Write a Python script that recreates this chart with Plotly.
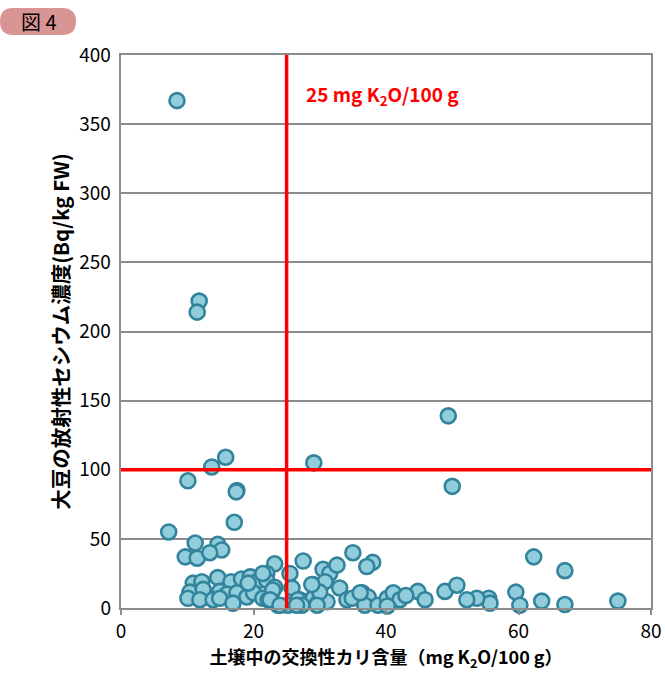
import plotly.graph_objects as go

# Exchangeable K2O in soil (mg K2O/100 g)
soil_k = [8.45, 11.8, 11.5, 15.8, 13.7, 10.1, 17.5, 17.4, 17.1, 29.1, 49.4, 50.0,
          7.2, 11.2, 14.6, 15.2, 9.7, 11.5, 13.4, 27.5, 35.0, 38.0, 37.1,
          62.3, 67.0, 59.6, 63.5, 67.0, 75.0, 55.5, 55.7, 53.7, 52.2, 48.9, 50.7, 60.2,
          30.5, 31.5, 32.6, 29.0, 30.8, 33.0, 27.0, 29.0, 29.7, 31.1, 34.1, 34.9,
          36.4, 37.3, 36.8, 38.8, 40.2, 41.1, 42.1, 40.2, 44.8, 45.9,
          23.2, 25.5, 22.0, 10.9, 12.2, 10.4, 12.4, 10.1, 11.9, 14.6, 16.6, 18.2,
          19.5, 20.5, 22.0, 23.2, 22.8, 25.8, 14.9, 16.0, 17.5, 13.9, 14.9, 16.9,
          19.0, 20.0, 21.4, 22.2, 23.7, 25.2, 26.7, 27.3, 30.0, 19.2, 21.4, 22.9,
          22.5, 24.0, 26.5, 28.8, 29.6, 36.1, 43.0]
# Radiocesium in soybean (Bq/kg FW)
cesium = [367, 222, 214, 109, 102, 92, 85, 84, 62, 105, 139, 88,
          55, 47, 46, 42, 37, 36, 40, 34, 40, 33, 30,
          37, 27, 11.5, 5, 2.5, 5, 7, 3.5, 7, 6, 12, 16.5, 2,
          28, 25, 31, 17, 19, 14.5, 6, 7, 3.5, 4.5, 6, 7,
          11, 8, 2, 2, 7, 11, 6, 1.5, 12, 6,
          32, 25, 25, 18, 19, 11.5, 13.5, 7, 6, 22, 19, 21,
          22.5, 19, 20, 15, 11.5, 14.5, 12, 10, 11, 6, 7, 3.5,
          8, 11, 7, 6, 2, 2, 6, 2, 11.5, 18, 25, 13,
          6, 2, 2, 17, 2, 11, 9]

k_threshold = [25, 25]
k_threshold_y = [0, 400]
cs_threshold_x = [0, 80]
cs_threshold = [100, 100]

W, H = 665, 675
l, r, t, b = 121, 14, 55, 67
pw, ph = W - l - r, H - t - b


def px2x(px):
    return (px - l) / pw


def py2y(py):
    return (H - b - py) / ph


fig = go.Figure()
fig.add_trace(go.Scatter(
    x=soil_k, y=cesium, mode="markers",
    marker=dict(size=15, color="#92CDDC", line=dict(color="#31849B", width=2.6)),
    showlegend=False, cliponaxis=False))
fig.add_trace(go.Scatter(x=k_threshold, y=k_threshold_y, mode="lines",
                         line=dict(color="#FF0000", width=3.5), showlegend=False))
fig.add_trace(go.Scatter(x=cs_threshold_x, y=cs_threshold, mode="lines",
                         line=dict(color="#FF0000", width=3.5), showlegend=False))

font_main = "Noto Sans CJK JP"
badge = (f"M {px2x(13)},{py2y(8)} L {px2x(62)},{py2y(8)} "
         f"Q {px2x(76)},{py2y(8)} {px2x(76)},{py2y(21.5)} "
         f"Q {px2x(76)},{py2y(35)} {px2x(62)},{py2y(35)} "
         f"L {px2x(13)},{py2y(35)} Q {px2x(0)},{py2y(35)} {px2x(0)},{py2y(21.5)} "
         f"Q {px2x(0)},{py2y(8)} {px2x(13)},{py2y(8)} Z")

fig.update_layout(
    width=W, height=H,
    margin=dict(l=l, r=r, t=t, b=b, autoexpand=False),
    showlegend=False,
    paper_bgcolor="white", plot_bgcolor="white",
    font=dict(family=font_main, color="black", size=19),
    xaxis=dict(range=[0, 80], dtick=20, showgrid=False, zeroline=False, automargin=False,
               showline=True, linecolor="#8C8C8C", linewidth=2, mirror=True,
               ticks="outside", ticklen=5, tickcolor="#8C8C8C", tickwidth=1.5,
               tickfont=dict(size=19, family=font_main),
               title=dict(text="<b>土壌中の交換性カリ含量（mg K<sub>2</sub>O/100 g）</b>",
                          font=dict(size=18), standoff=0)),
    yaxis=dict(range=[0, 400], dtick=50, showgrid=True, gridcolor="#8C8C8C", gridwidth=1.8,
               zeroline=False, automargin=False, showline=True, linecolor="#8C8C8C",
               linewidth=2, mirror=True,
               ticks="", tickfont=dict(size=19, family=font_main), ticksuffix=" ",
               title=dict(text="<b>大豆の放射性セシウム濃度(Bq/kg FW)</b>",
                          font=dict(size=20.5), standoff=4)),
    annotations=[
        dict(x=27.6, y=371, xref="x", yref="y", xanchor="left", yanchor="middle",
             text="<b>25 mg K<sub>2</sub>O/100 g</b>", showarrow=False,
             font=dict(color="#FF0000", size=19, family=font_main)),
        dict(x=px2x(39), y=py2y(21.5), xref="paper", yref="paper",
             xanchor="center", yanchor="middle",
             text="図 4", showarrow=False,
             font=dict(color="black", size=20, family=font_main)),
    ],
    shapes=[dict(type="path", xref="paper", yref="paper", path=badge,
                 fillcolor="#D99594", line=dict(width=0), layer="below")],
)

fig.write_html("out.html")
